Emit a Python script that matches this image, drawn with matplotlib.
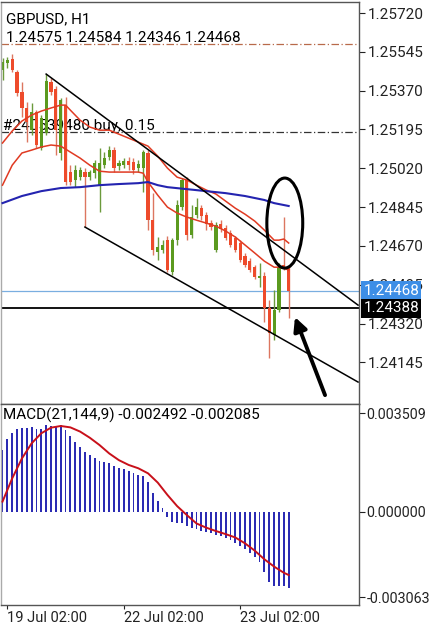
import numpy as np
import matplotlib
matplotlib.use("Agg")
import matplotlib.pyplot as plt
from matplotlib.patches import Ellipse
from matplotlib.transforms import blended_transform_factory

plt.rcParams['font.family'] = ['Roboto', 'DejaVu Sans']

# GBPUSD H1 candles, oldest first (index 1 = 19 Jul 02:00)
opens = [1.25463, 1.25494, 1.25512, 1.25454, 1.25364, 1.25292, 1.25192, 1.25273, 1.25111, 1.25179,
         1.25409, 1.25377, 1.25089, 1.25305, 1.25003, 1.24967, 1.24980, 1.25003, 1.24980, 1.24998,
         1.24944, 1.25034, 1.25071, 1.25102, 1.25030, 1.25034, 1.25053, 1.25048, 1.25021, 1.25021,
         1.25089, 1.24786, 1.24642, 1.24651, 1.24696, 1.24552, 1.24696, 1.24845, 1.24967, 1.24719,
         1.24809, 1.24840, 1.24809, 1.24773, 1.24651, 1.24768, 1.24750, 1.24728, 1.24705, 1.24683,
         1.24624, 1.24601, 1.24574, 1.24525, 1.24534, 1.24389, 1.24268, 1.24380, 1.24583, 1.24575]
highs = [1.25517, 1.25522, 1.25535, 1.25463, 1.25409, 1.25319, 1.25314, 1.25282, 1.25260, 1.25445,
         1.25427, 1.25391, 1.25337, 1.25341, 1.25034, 1.25034, 1.25025, 1.25021, 1.25012, 1.25057,
         1.25111, 1.25093, 1.25120, 1.25116, 1.25057, 1.25066, 1.25071, 1.25066, 1.25057, 1.25102,
         1.25102, 1.24908, 1.24710, 1.24696, 1.24714, 1.24705, 1.24877, 1.24976, 1.24980, 1.24854,
         1.24886, 1.24854, 1.24822, 1.24786, 1.24777, 1.24786, 1.24764, 1.24741, 1.24714, 1.24696,
         1.24638, 1.24615, 1.24583, 1.24592, 1.24552, 1.24426, 1.24471, 1.24592, 1.24800, 1.24584]
lows = [1.25418, 1.25472, 1.25454, 1.25346, 1.25251, 1.25138, 1.25170, 1.25111, 1.25102, 1.25170,
        1.25350, 1.25079, 1.25057, 1.24944, 1.24944, 1.24935, 1.24967, 1.24755, 1.24967, 1.24976,
        1.24822, 1.25021, 1.25057, 1.25003, 1.25012, 1.25021, 1.25012, 1.24994, 1.25003, 1.24913,
        1.24741, 1.24628, 1.24606, 1.24638, 1.24552, 1.24538, 1.24674, 1.24831, 1.24696, 1.24705,
        1.24795, 1.24786, 1.24741, 1.24741, 1.24642, 1.24732, 1.24696, 1.24665, 1.24642, 1.24597,
        1.24574, 1.24552, 1.24520, 1.24484, 1.24326, 1.24164, 1.24245, 1.24371, 1.24561, 1.24346]
closes = [1.25499, 1.25508, 1.25463, 1.25359, 1.25292, 1.25228, 1.25273, 1.25125, 1.25246, 1.25413,
          1.25364, 1.25192, 1.25328, 1.24958, 1.24958, 1.25012, 1.25012, 1.24980, 1.25003, 1.25043,
          1.25043, 1.25066, 1.25102, 1.25021, 1.25043, 1.25053, 1.25034, 1.25012, 1.25039, 1.25093,
          1.24786, 1.24651, 1.24665, 1.24674, 1.24561, 1.24696, 1.24854, 1.24967, 1.24719, 1.24800,
          1.24845, 1.24804, 1.24768, 1.24755, 1.24764, 1.24746, 1.24705, 1.24674, 1.24651, 1.24606,
          1.24583, 1.24561, 1.24529, 1.24534, 1.24389, 1.24277, 1.24380, 1.24574, 1.24574, 1.24468]

# moving average lines (read at selected bars)
ma_up_idx = [0, 2, 4, 6, 8, 10, 12, 13, 14, 16, 18, 20, 22, 24, 26, 28, 30, 32, 34, 36, 38, 40,
             42, 44, 46, 48, 50, 52, 54, 56, 57, 58, 59]
ma_up = [1.25134, 1.25188, 1.25233, 1.25260, 1.25278, 1.25292, 1.25305, 1.25305, 1.25282, 1.25237,
         1.25206, 1.25192, 1.25192, 1.25174, 1.25156, 1.25138, 1.25120, 1.25075, 1.25021, 1.24980,
         1.24967, 1.24944, 1.24922, 1.24904, 1.24872, 1.24840, 1.24813, 1.24782, 1.24741, 1.24696,
         1.24696, 1.24701, 1.24683]
ma_lo_idx = [0, 2, 4, 6, 8, 10, 12, 14, 16, 18, 20, 22, 24, 26, 28, 29, 30, 32, 34, 36, 38, 40,
             42, 44, 46, 48, 50, 52, 54, 56, 57, 58, 59]
ma_lo = [1.24944, 1.25034, 1.25089, 1.25102, 1.25116, 1.25125, 1.25120, 1.25093, 1.25066, 1.25034,
         1.25007, 1.25003, 1.25003, 1.25003, 1.25003, 1.24998, 1.24958, 1.24899, 1.24845, 1.24818,
         1.24800, 1.24786, 1.24773, 1.24759, 1.24737, 1.24710, 1.24674, 1.24638, 1.24601, 1.24574,
         1.24574, 1.24570, 1.24561]
ma_blue_idx = [0, 4, 8, 12, 16, 20, 24, 28, 30, 32, 34, 38, 42, 46, 50, 54, 56, 59]
ma_blue = [1.24863, 1.24895, 1.24917, 1.24931, 1.24935, 1.24944, 1.24949, 1.24953, 1.24958, 1.24944,
           1.24935, 1.24926, 1.24917, 1.24908, 1.24895, 1.24877, 1.24863, 1.24850]

# MACD(21,144,9)
macd_hist = [0.00220, 0.00258, 0.00280, 0.00294, 0.00300, 0.00300, 0.00303, 0.00295, 0.00294, 0.00309,
             0.00306, 0.00307, 0.00309, 0.00292, 0.00270, 0.00250, 0.00232, 0.00214, 0.00202, 0.00190,
             0.00181, 0.00176, 0.00173, 0.00163, 0.00157, 0.00152, 0.00146, 0.00137, 0.00131, 0.00129,
             0.00107, 0.00065, 0.00038, 0.00012, -0.00018, -0.00038, -0.00042, -0.00039, -0.00051, -0.00057,
             -0.00062, -0.00069, -0.00071, -0.00075, -0.00083, -0.00086, -0.00093, -0.00101, -0.00113, -0.00121,
             -0.00133, -0.00149, -0.00161, -0.00179, -0.00214, -0.00250, -0.00265, -0.00265, -0.00265, -0.00274]
sig_idx = [0, 2, 4, 6, 8, 10, 12, 14, 16, 18, 20, 22, 24, 26, 28, 30, 32, 34, 36, 38, 40, 42, 44,
           46, 48, 50, 52, 54, 56, 58, 59]
signal = [0.00036, 0.00119, 0.00190, 0.00244, 0.00280, 0.00300, 0.00306, 0.00301, 0.00286, 0.00264,
          0.00238, 0.00208, 0.00184, 0.00167, 0.00155, 0.00137, 0.00104, 0.00060, 0.00020, -0.00012,
          -0.00042, -0.00057, -0.00069, -0.00080, -0.00092, -0.00113, -0.00139, -0.00170, -0.00196,
          -0.00218, -0.00226]

price_ticks = [1.25720, 1.25545, 1.25370, 1.25195, 1.25020, 1.24845, 1.24670, 1.24495, 1.24320, 1.24145]
macd_ticks = [0.003509, 0.0, -0.003063]
date_idx = [1, 25, 49]
date_labels = ['19 Jul 02:00', '22 Jul 02:00', '23 Jul 02:00']

bid = 1.24468
level = 1.24388
order_line = 1.25185
stop_line = 1.25580
chan_up = ([9, 73.3], [1.25445, 1.24403])
chan_lo = ([17, 73.3], [1.24755, 1.24056])

RED = '#ee4b2b'
GREEN = '#5b9a1f'
FS = 11

fig = plt.figure(figsize=(4.34, 6.25), dpi=100)
W, H = 434, 625
ax = fig.add_axes([1 / W, 1 - 404 / H, 358 / W, 402 / H])
ax2 = fig.add_axes([1 / W, 1 - 605 / H, 358 / W, 201 / H])

xl = (-0.31, 73.5)
idx = np.arange(len(opens))
o = np.array(opens); c = np.array(closes)
up = c >= o
cols = [GREEN if u else RED for u in up]
wick_cols = ['#6b9a3c' if u else '#dc7660' for u in up]

# main chart
ax.vlines(idx, lows, highs, colors=wick_cols, lw=1, zorder=2)
bh = np.maximum(np.abs(c - o), 0.000025)
ax.bar(idx, bh, bottom=np.minimum(o, c), width=0.66, color=cols, lw=0, zorder=2)

ax.plot(ma_up_idx, ma_up, color='#e03a22', lw=1.1, zorder=3)
ax.plot(ma_lo_idx, ma_lo, color='#e03a22', lw=1.1, zorder=3)
ax.plot(ma_blue_idx, ma_blue, color='#2424b0', lw=1.5, zorder=3)

ax.axhline(stop_line, color='#b86a4a', lw=0.9, ls=(0, (6, 2, 1, 2)), zorder=1)
ax.axhline(order_line, color='#333333', lw=0.9, ls=(0, (6, 2, 1, 2)), zorder=1)
ax.axhline(bid, color='#7aaee0', lw=0.9, zorder=1)
ax.axhline(level, color='black', lw=1.3, zorder=1)

ax.plot(*chan_up, color='black', lw=1.1, zorder=3)
ax.plot(*chan_lo, color='black', lw=1.1, zorder=3)

ax.add_patch(Ellipse((58.2, 1.24773), 7.4, 0.00406, fill=False, ec='black', lw=2.2, zorder=4))
ax.annotate('', xy=(60.3, 1.24349), xytext=(66.5, 1.23997),
            arrowprops=dict(arrowstyle='-|>', color='black', lw=2.8, mutation_scale=20,
                            shrinkA=0, shrinkB=0), zorder=4)

ax.text(0.015, 0.958, 'GBPUSD, H1', transform=ax.transAxes, fontsize=FS, va='center', ha='left')
ax.text(0.015, 0.91, '1.24575 1.24584 1.24346 1.24468', transform=ax.transAxes,
        fontsize=FS, va='center', ha='left')
ax.text(0.003, order_line + 0.00028, '#240539480 buy, 0.15', fontsize=FS, va='center',
        ha='left', zorder=1)

ax.set_xlim(xl)
ax.set_ylim(1.23957, 1.25770)
ax.yaxis.tick_right()
ax.set_yticks(price_ticks)
ax.set_yticklabels(['%.5f' % t for t in price_ticks])
ax.tick_params(axis='y', length=4, width=0.8, labelsize=FS, pad=2, colors='#222222')
ax.set_xticks([])

tr = blended_transform_factory(ax.transAxes, ax.transData)
ax.text(1.012, bid, '1.24468', transform=tr, fontsize=FS, color='white', va='center', ha='left',
        clip_on=False, zorder=6,
        bbox=dict(boxstyle='square,pad=0.15', fc='#3d8ee6', ec='none'))
ax.text(1.012, level, '1.24388', transform=tr, fontsize=FS, color='white', va='center', ha='left',
        clip_on=False, zorder=6,
        bbox=dict(boxstyle='square,pad=0.15', fc='black', ec='none'))

# MACD panel
ax2.bar(idx, macd_hist, width=0.38, color='#2b2bb3', lw=0, zorder=2)
ax2.plot(sig_idx, signal, color='#c8101a', lw=1.4, zorder=3)
ax2.text(0.006, 0.945, 'MACD(21,144,9) -0.002492 -0.002085', transform=ax2.transAxes,
         fontsize=FS, va='center', ha='left')
ax2.set_xlim(xl)
ax2.set_ylim(-0.003331, 0.003845)
ax2.yaxis.tick_right()
ax2.set_yticks(macd_ticks)
ax2.set_yticklabels(['0.003509', '0.000000', '-0.003063'])
ax2.tick_params(axis='y', length=4, width=0.8, labelsize=10.3, pad=1.5, colors='#222222')
ax2.set_xticks(date_idx)
ax2.set_xticklabels(date_labels)
for lab in ax2.get_xticklabels():
    lab.set_ha('left')
ax2.tick_params(axis='x', length=3, width=0.8, labelsize=10.5, pad=1, colors='#222222')

for a in (ax, ax2):
    for s in a.spines.values():
        s.set_color('#555555')
        s.set_linewidth(1.0)
    a.spines['left'].set_color('#aaaaaa')

fig.savefig('out.png', dpi=100)
